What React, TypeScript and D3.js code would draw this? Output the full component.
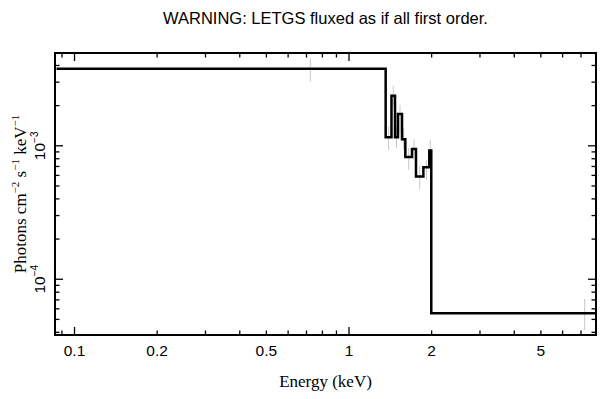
import * as d3 from 'd3';

// bin edges (keV) and folded flux per bin
const energyEdges = [0.086, 1.36, 1.428, 1.471, 1.508, 1.56, 1.604, 1.696, 1.754, 1.866, 1.961, 1.994, 12.45];
const fluxValues = [3.78e-3, 1.16e-3, 2.37e-3, 1.16e-3, 1.73e-3, 1.12e-3, 8.23e-4, 9.45e-4, 5.88e-4, 6.92e-4, 9.22e-4, 5.55e-5];
const errLow = [3.02e-3, 9.33e-4, 1.97e-3, 9.66e-4, 1.245e-3, 9.33e-4, 6.6e-4, 7.86e-4, 4.73e-4, 5.56e-4, 7.86e-4, 4.17e-5];
const errHigh = [4.49e-3, 1.396e-3, 2.82e-3, 1.396e-3, 2.03e-3, 1.357e-3, 9.61e-4, 1.12e-3, 7.08e-4, 7.86e-4, 1.11e-3, 7.11e-5];

const xTickLabels = [0.1, 0.2, 0.5, 1, 2, 5];
const xMinorTicks = [0.09, 0.2, 0.3, 0.4, 0.5, 0.6, 0.7, 0.8, 0.9, 2, 3, 4, 5, 6, 7];
const xMajorTicks = [0.1, 1];
const yMajorTicks = [1e-4, 1e-3];
const yMinorTicks = [4e-5, 5e-5, 6e-5, 7e-5, 8e-5, 9e-5, 2e-4, 3e-4, 4e-4, 5e-4, 6e-4, 7e-4, 8e-4, 9e-4, 2e-3, 3e-3, 4e-3];

const width = 609;
const height = 399;
const left = 55, right = 596, top = 53, bottom = 335;

const x = d3.scaleLog().domain([0.0849, 7.94]).range([left, right]);
const y = d3.scaleLog().domain([3.82e-5, 4.96e-3]).range([bottom, top]);

const sans = '"Liberation Sans", Arial, sans-serif';
const serif = '"Liberation Serif", "Times New Roman", serif';

function stepPath() {
  const pts: [number, number][] = [];
  fluxValues.forEach((v, i) => {
    pts.push([energyEdges[i], v]);
    pts.push([energyEdges[i + 1], v]);
  });
  return d3.line<[number, number]>().x(d => x(d[0])).y(d => y(d[1]))(pts) || '';
}

export default function App() {
  const major = 8;
  const minor = 4.5;
  return (
    <svg width={width} height={height} style={{ position: 'absolute', left: 0, top: 0, background: '#fff' }}>
      <defs>
        <clipPath id="plot-clip">
          <rect x={left} y={top} width={right - left} height={bottom - top} />
        </clipPath>
      </defs>
      <rect width={width} height={height} fill="#fff" />
      <text x={(left + right) / 2} y={24} textAnchor="middle" fontFamily={sans} fontSize={16.5}>
        WARNING: LETGS fluxed as if all first order.
      </text>

      <g clipPath="url(#plot-clip)">
        {fluxValues.map((v, i) => {
          const xc = x((energyEdges[i] + energyEdges[i + 1]) / 2);
          return <line key={i} x1={xc} x2={xc} y1={y(errLow[i])} y2={y(errHigh[i])} stroke="#c8c8c8" strokeWidth={1} />;
        })}
        <path d={stepPath()} fill="none" stroke="#000" strokeWidth={2.5} />
      </g>

      {/* ticks, inward on all sides */}
      <g stroke="#000" strokeWidth={1.3}>
        {xMinorTicks.concat(xMajorTicks).map((t, i) => {
          const len = xMajorTicks.includes(t) ? major : minor;
          const xx = x(t);
          return (
            <g key={'x' + i}>
              <line x1={xx} x2={xx} y1={bottom} y2={bottom - len} />
              <line x1={xx} x2={xx} y1={top} y2={top + len} />
            </g>
          );
        })}
        {yMinorTicks.concat(yMajorTicks).map((t, i) => {
          const len = yMajorTicks.includes(t) ? major : minor;
          const yy = y(t);
          return (
            <g key={'y' + i}>
              <line x1={left} x2={left + len} y1={yy} y2={yy} />
              <line x1={right} x2={right - len} y1={yy} y2={yy} />
            </g>
          );
        })}
      </g>
      <rect x={left} y={top} width={right - left} height={bottom - top} fill="none" stroke="#000" strokeWidth={2} />

      {xTickLabels.map(t => (
        <text key={t} x={x(t)} y={356} textAnchor="middle" fontFamily={sans} fontSize={15.5}>{t}</text>
      ))}
      {yMajorTicks.map(t => (
        <text key={t} transform={`translate(45,${y(t)}) rotate(-90)`} textAnchor="middle" fontFamily={sans} fontSize={15.5}>
          10<tspan dy={-7} fontSize={10}>{'\u2212' + Math.round(-Math.log10(t))}</tspan>
        </text>
      ))}

      <text x={(left + right) / 2} y={387} textAnchor="middle" fontFamily={serif} fontSize={17}>Energy (keV)</text>
      <text transform={`translate(26,${(top + bottom) / 2}) rotate(-90)`} textAnchor="middle" fontFamily={serif} fontSize={17}>
        Photons cm<tspan dy={-7} fontSize={11}>{'\u22122'}</tspan>
        <tspan dy={7}> s</tspan><tspan dy={-7} fontSize={11}>{'\u22121'}</tspan>
        <tspan dy={7}> keV</tspan><tspan dy={-7} fontSize={11}>{'\u22121'}</tspan>
      </text>
    </svg>
  );
}
